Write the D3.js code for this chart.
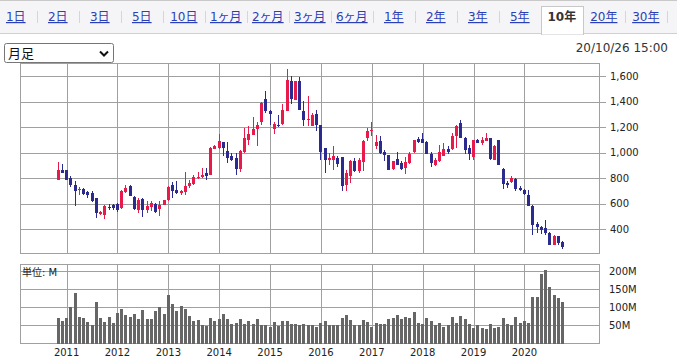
<!DOCTYPE html>
<html><head><meta charset="utf-8">
<script src="https://cdn.jsdelivr.net/npm/d3@7"></script>
<style>
html,body{margin:0;padding:0;background:#fff;}
svg{display:block;font-family:"DejaVu Sans","Noto Sans CJK JP",sans-serif;}
</style></head>
<body><svg id="c" width="677" height="358"></svg>
<script>
// ---------- data ----------
const tabLabels = ["1日","2日","3日","5日","10日","1ヶ月","2ヶ月","3ヶ月","6ヶ月","1年","2年","3年","5年","10年","20年","30年"];
const selectedTab = "10年";
const periodLabel = "月足";
const dateLabel = "20/10/26 15:00";
const volUnitLabel = "単位: M";
const yearLabels = ["2011","2012","2013","2014","2015","2016","2017","2018","2019","2020"];
const priceTicks = [400,600,800,1000,1200,1400,1600];
const volTicks = [50,100,150,200];
// months Nov 2010 .. Oct 2020
const months = d3.timeMonths(new Date(2010,10,1), new Date(2020,10,1));
const open = [
788,866,
862,801,749,704,714,691,683,644,521,513,573,586,
597,565,688,738,652,552,636,552,573,599,560,591,
625,746,709,683,688,735,756,801,806,840,827,1031,
1037,1084,1010,976,958,872,1003,1102,1142,1189,1241,1422,
1325,1189,1220,1225,1325,1561,1417,1561,1325,1254,1207,1304,
1220,1037,940,945,958,966,749,819,932,853,927,1115,
1168,1055,1089,1003,984,872,953,919,880,919,1003,1107,
1107,1081,990,906,932,976,1029,1029,1128,1233,1115,1037,
966,1097,1076,1089,1115,945,1097,874,762,769,793,722,
709,670,583,442,416,408,369,277,343,298];
const high = [
927,911,
866,819,775,730,722,696,696,644,539,591,599,599,
604,709,743,743,662,644,644,618,618,604,618,631,
741,769,775,709,848,783,827,845,877,880,1045,1063,
1147,1084,1081,997,997,1018,1194,1212,1278,1238,1396,1482,
1338,1238,1299,1385,1658,1600,1561,1592,1404,1443,1312,1338,
1220,1037,997,1050,971,966,866,945,958,958,1102,1194,
1238,1142,1128,1018,984,937,1003,932,966,1003,1102,1123,
1154,1089,1003,958,1063,1076,1050,1154,1220,1259,1123,1063,
1102,1107,1123,1154,1115,1063,1102,880,775,819,801,738,
714,704,591,452,426,473,374,356,348,303];
const low = [
785,838,
783,730,578,665,665,644,610,487,513,479,547,552,
531,560,683,657,552,526,492,526,539,526,500,586,
618,644,678,670,670,722,748,796,801,783,822,1029,
1031,976,919,932,827,846,997,1058,1136,1050,1220,1312,
1220,1149,1202,1220,1325,1385,1411,1333,1212,1212,1207,1168,
945,840,906,866,887,696,696,762,845,840,853,1089,
1134,1029,992,932,866,866,906,866,835,914,997,1076,
1076,992,887,893,924,971,992,1024,1037,1115,992,940,
945,1076,1063,1089,945,940,906,714,722,762,696,696,
670,578,356,369,363,356,277,272,277,246];
const close = [
866,840,
788,749,696,714,678,670,618,526,534,583,568,565,
552,696,722,657,557,631,552,583,604,531,586,625,
728,701,683,696,735,762,806,809,824,814,1037,1050,
1089,1034,958,945,872,1010,1115,1149,1189,1220,1390,1325,
1304,1225,1207,1338,1569,1424,1561,1333,1254,1262,1299,1220,
1003,945,958,971,914,741,840,932,853,945,1094,1168,
1181,1084,997,984,866,937,906,872,927,992,1097,1081,
1076,992,919,940,1003,1031,1003,1134,1212,1115,1018,992,
1097,1076,1097,1115,950,1050,906,756,749,801,714,709,
678,583,434,416,395,369,277,348,290,259];
const volume = [ // millions of shares
72,62,
72,100,141,74,71,60,50,115,71,60,74,57,
85,96,79,74,82,68,93,68,68,90,100,82,
135,110,90,104,96,76,62,65,50,48,71,62,
68,82,68,54,57,68,54,62,54,68,51,51,
47,60,48,62,62,54,54,51,54,51,51,46,
57,62,51,51,51,71,79,65,51,51,65,60,
46,57,54,54,68,71,79,68,74,71,88,57,
54,71,62,51,57,46,51,74,57,76,68,54,
43,51,43,40,54,43,46,71,54,51,74,57,
62,57,128,129,194,205,157,135,127,115];

// ---------- layout ----------
const svg = d3.select("#c");
const W = 677;
const UP = "#e8194b", DOWN = "#2b2a8e", GRID = "#a0a0a0", VOL = "#666666", TXT = "#222";
const P = {l:20, r:599, t:63, b:253};
const V = {l:20, r:599, t:264.5, b:343.5};

// header tabs
svg.append("rect").attr("x",0).attr("y",0).attr("width",W).attr("height",34).attr("fill","#f5f5f8");
svg.append("line").attr("x1",0).attr("x2",W).attr("y1",0.5).attr("y2",0.5).attr("stroke","#c8c8c8");
svg.append("line").attr("x1",0).attr("x2",W).attr("y1",33.5).attr("y2",33.5).attr("stroke","#d0d0d0");
const tabW = 42, tabX0 = -5.2;
const tabs = svg.append("g");
tabLabels.forEach((t,i)=>{
  const x0 = tabX0 + i*tabW, cx = x0 + tabW/2;
  const sel = t === selectedTab;
  if (sel) {
    tabs.append("rect").attr("x",Math.round(x0)+0.5).attr("y",6.5).attr("width",tabW).attr("height",28)
      .attr("fill","#fff").attr("stroke","#c8c8c8");
    tabs.append("line").attr("x1",Math.round(x0)+1).attr("x2",Math.round(x0)+tabW).attr("y1",33.5).attr("y2",33.5)
      .attr("stroke","#fff").attr("stroke-width",2);
  }
  tabs.append("text").attr("x",cx).attr("y",21).attr("text-anchor","middle")
    .attr("font-size",12).attr("font-weight",sel?"bold":"normal")
    .attr("fill",sel?"#333":"#2b3fb6")
    .attr("text-decoration",sel?"none":"underline").text(t);
  const next = tabLabels[i+1];
  if (!sel && next !== selectedTab) {
    const sx = Math.round(x0 + tabW)+0.5;
    tabs.append("line").attr("x1",sx).attr("x2",sx).attr("y1",11).attr("y2",23).attr("stroke","#d6d6d6");
  }
});

// period select box
svg.append("rect").attr("x",4.5).attr("y",43.5).attr("width",109).attr("height",19).attr("rx",2)
  .attr("fill","#fff").attr("stroke","#767676");
svg.append("text").attr("x",8).attr("y",58).attr("font-size",13).attr("fill","#111").text(periodLabel);
svg.append("path").attr("d","M100,51.5 L104,55.5 L108,51.5").attr("fill","none").attr("stroke","#111").attr("stroke-width",2);
svg.append("text").attr("x",668).attr("y",52).attr("text-anchor","end").attr("font-size",12).attr("fill","#333").text(dateLabel);

// scales
const x = d3.scaleLinear().domain([-9, 127.6]).range([P.l, P.r]);
const y = d3.scaleLinear().domain([211, 1705]).range([P.b, P.t]);
const yv = d3.scaleLinear().domain([0, 219.4]).range([V.b, V.t]);
const yearIdx = yearLabels.map(yl => months.findIndex(m => m.getFullYear() === +yl && m.getMonth() === 0));

// price panel
const gp = svg.append("g").attr("shape-rendering","crispEdges");
gp.append("rect").attr("x",P.l+0.5).attr("y",P.t+0.5).attr("width",P.r-P.l).attr("height",P.b-P.t)
  .attr("fill","#fff").attr("stroke",GRID);
priceTicks.forEach(v=>{
  const yy = Math.round(y(v))+0.5;
  gp.append("line").attr("x1",P.l).attr("x2",P.r+7).attr("y1",yy).attr("y2",yy).attr("stroke",GRID);
});
yearIdx.forEach(i=>{
  const xx = Math.round(x(i))+0.5;
  gp.append("line").attr("x1",xx).attr("x2",xx).attr("y1",P.t).attr("y2",P.b).attr("stroke",GRID);
});
svg.append("g").selectAll("text").data(priceTicks).join("text")
  .attr("x",610).attr("y",d=>y(d)).attr("dy","0.36em").attr("font-size",10).attr("fill",TXT)
  .text(d=>d3.format(",")(d));

// candles
const gc = svg.append("g").attr("shape-rendering","crispEdges");
months.forEach((m,i)=>{
  const c = close[i] >= open[i] ? UP : DOWN;
  const left = Math.round(x(i)-1.5);
  gc.append("line").attr("x1",left+1.5).attr("x2",left+1.5)
    .attr("y1",Math.round(y(high[i]))).attr("y2",Math.round(y(low[i]))).attr("stroke",c);
  const y1 = Math.round(y(Math.max(open[i],close[i])));
  const y2 = Math.round(y(Math.min(open[i],close[i])));
  gc.append("rect").attr("x",left).attr("width",3).attr("y",y1).attr("height",Math.max(1,y2-y1)).attr("fill",c);
});

// volume panel
const gv = svg.append("g").attr("shape-rendering","crispEdges");
gv.append("rect").attr("x",V.l+0.5).attr("y",V.t).attr("width",V.r-V.l).attr("height",V.b-V.t)
  .attr("fill","#fff").attr("stroke",GRID);
volTicks.filter(v=>yv(v) > V.t+3).forEach(v=>{
  const yy = Math.round(yv(v))+0.5;
  gv.append("line").attr("x1",V.l).attr("x2",V.r).attr("y1",yy).attr("y2",yy).attr("stroke",GRID);
});
yearIdx.forEach(i=>{
  const xx = Math.round(x(i))+0.5;
  gv.append("line").attr("x1",xx).attr("x2",xx).attr("y1",V.t).attr("y2",V.b).attr("stroke",GRID);
});
gv.selectAll("rect.bar").data(volume).join("rect").attr("class","bar")
  .attr("x",(d,i)=>Math.round(x(i)-1.5)).attr("width",3)
  .attr("y",d=>Math.round(yv(d))).attr("height",d=>Math.round(V.b)-Math.round(yv(d)))
  .attr("fill",VOL);
svg.append("g").selectAll("text").data(volTicks).join("text")
  .attr("x",609).attr("y",d=>yv(d)).attr("dy","0.36em").attr("font-size",10).attr("fill",TXT)
  .text(d=>d+"M");
svg.append("text").attr("x",22).attr("y",272).attr("dy","0.36em").attr("font-size",10).attr("fill",TXT).text(volUnitLabel);

// year labels
svg.append("g").selectAll("text").data(yearLabels).join("text")
  .attr("x",(d,k)=>x(yearIdx[k])).attr("y",352).attr("dy","0.36em").attr("text-anchor","middle")
  .attr("font-size",10).attr("fill",TXT).text(d=>d);
</script></body></html>
